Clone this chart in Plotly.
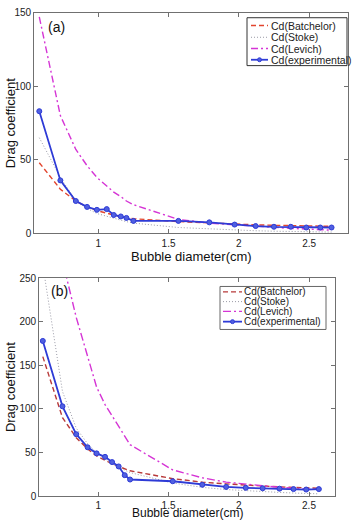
import plotly.graph_objects as go

# ---------------- data: panel (a) ----------------
d_a = [0.58, 0.73, 0.84, 0.92, 0.99, 1.06, 1.11, 1.16, 1.20, 1.25,
       1.57, 1.79, 1.97, 2.12, 2.25, 2.37, 2.48, 2.58, 2.66]
batchelor_a = [48, 30, 22, 18, 15.5, 13.5, 12.5, 11.5, 10.8, 10,
               8, 7, 6.2, 5.8, 5.5, 5.2, 5.0, 4.9, 4.8]
stoke_a = [65, 38, 22, 17, 13.5, 11.5, 10, 9, 8, 7,
           4, 3, 2.2, 1.8, 1.5, 1.3, 1.1, 1.0, 0.9]
levich_a = [147, 80, 57, 46, 38, 32, 28, 25, 22, 19.5,
            9.5, 7, 5.8, 4.8, 4.0, 3.4, 3.0, 2.6, 2.2]
exp_a = [83, 36, 22, 18, 16, 16.5, 12.5, 11.5, 10.5, 8.5,
         8.5, 7.5, 6, 5, 4.5, 4.5, 4, 4, 4]

# ---------------- data: panel (b) ----------------
d_b = [0.605, 0.745, 0.843, 0.924, 0.988, 1.048, 1.098, 1.145, 1.188, 1.226,
       1.53, 1.74, 1.91, 2.05, 2.17, 2.29, 2.39, 2.48, 2.57]
batchelor_b = [160, 90, 67, 54, 46, 41, 37, 34, 31, 29,
               20, 16, 14, 12.5, 11.5, 10.5, 10, 9.5, 9]
stoke_b = [265, 120, 78, 60, 50, 43, 37, 33, 30, 27,
           15, 10, 7.5, 6, 5, 4.2, 3.5, 3.0, 2.6]
levich_b = [440, 270, 205, 160, 125, 105, 92, 80, 68, 59,
            30, 21, 16, 13.5, 11.5, 10, 9, 8, 7.5]
exp_b = [178, 103, 71, 56, 49, 45, 39, 34, 24, 19,
         17, 13, 10.5, 9.5, 9, 8.5, 8, 7.5, 8]

names = ["Cd(Batchelor)", "Cd(Stoke)", "Cd(Levich)", "Cd(experimental)"]
x_ticks = [1, 1.5, 2, 2.5]
x_ticktext = ["1", "1.5", "2", "2.5"]
y_ticks_a = [0, 50, 100, 150]
y_ticks_b = [0, 50, 100, 150, 200, 250]
x_title = "Bubble diameter(cm)"
y_title = "Drag coefficient"

FONT = "Liberation Sans, Arial, sans-serif"
W, H = 352, 527
STOKE_COL = "#9a9aa6"
LEV_COL = "#d535d5"
EXP_COL = "#2e3bd6"


def px(x):
    return x / W


def py(y):
    return (H - y) / H


fig = go.Figure()


def add_panel(x, bat, sto, lev, ex, xa, ya, bat_col, lev_dash):
    styles = [
        dict(color=bat_col, width=1.4, dash="5px,3px"),
        dict(color=STOKE_COL, width=1, dash="1px,2px"),
        dict(color=LEV_COL, width=1.4, dash=lev_dash),
    ]
    for ys, st, nm in zip([bat, sto, lev], styles, names[:3]):
        fig.add_trace(go.Scatter(x=x, y=ys, mode="lines", name=nm, line=st,
                                 xaxis=xa, yaxis=ya, showlegend=False))
    fig.add_trace(go.Scatter(x=x, y=ex, mode="lines+markers", name=names[3],
                             line=dict(color=EXP_COL, width=1.8),
                             marker=dict(symbol="circle", size=5, color="#5060e0",
                                         line=dict(color=EXP_COL, width=1)),
                             xaxis=xa, yaxis=ya, showlegend=False))
    return styles


styles_a = add_panel(d_a, batchelor_a, stoke_a, levich_a, exp_a, "x", "y",
                     "#e2452e", "7px,3px,2px,3px")
styles_b = add_panel(d_b, batchelor_b, stoke_b, levich_b, exp_b, "x2", "y2",
                     "#b83a3a", "8px,3px,2px,3px")

axis_common = dict(showline=True, linecolor="#707070", linewidth=1.2, mirror="ticks",
                   ticks="inside", ticklen=4, tickcolor="#707070", showgrid=False,
                   zeroline=False, tickfont=dict(family=FONT, size=10, color="#222"))

fig.update_layout(
    width=W, height=H, margin=dict(l=0, r=0, t=0, b=0),
    paper_bgcolor="white", plot_bgcolor="white", showlegend=False,
    xaxis=dict(domain=[px(34.3), px(348)], range=[0.5445, 2.777],
               anchor="y", tickvals=x_ticks, ticktext=x_ticktext, **axis_common),
    yaxis=dict(domain=[py(232.7), py(6.7)], range=[0, 150],
               anchor="x", tickvals=y_ticks_a, **axis_common),
    xaxis2=dict(domain=[px(39.3), px(335)], range=[0.58, 2.685],
                anchor="y2", tickvals=x_ticks, ticktext=x_ticktext, **axis_common),
    yaxis2=dict(domain=[py(501.5), py(278.5)], range=[0, 250],
                anchor="x2", tickvals=y_ticks_b, **axis_common),
)

# axis titles
for (cx, cy, txt, ang, ya, fs) in [(191, 248, x_title, 0, "top", 13),
                                   (187, 527, x_title, 0, "bottom", 12),
                                   (10, 120, y_title, -90, "middle", 13),
                                   (10, 390, y_title, -90, "middle", 13)]:
    fig.add_annotation(text=txt, x=px(cx), y=py(cy), xref="paper", yref="paper",
                       xanchor="center", yanchor=ya, textangle=ang, borderpad=0,
                       showarrow=False, font=dict(family=FONT, size=fs, color="#111"))

# panel labels
fig.add_annotation(text="(a)", x=px(46), y=py(21), xref="paper", yref="paper",
                   xanchor="left", yanchor="middle", showarrow=False,
                   font=dict(family=FONT, size=14, color="#111"))
fig.add_annotation(text="(b)", x=px(49), y=py(292), xref="paper", yref="paper",
                   xanchor="left", yanchor="middle", showarrow=False,
                   font=dict(family=FONT, size=14, color="#111"))


# legends (MATLAB-style compact boxes)
def add_legend(box, rows, x0, x1, xt, styles, border, fsize):
    bx0, by0, bx1, by1 = box
    fig.add_shape(type="rect", xref="paper", yref="paper",
                  x0=px(bx0), x1=px(bx1), y0=py(by1), y1=py(by0),
                  line=dict(color=border, width=1), fillcolor="white", layer="above")
    all_styles = styles + [dict(color=EXP_COL, width=1.8)]
    for i, (ry, nm) in enumerate(zip(rows, names)):
        st = all_styles[i]
        fig.add_shape(type="line", xref="paper", yref="paper",
                      x0=px(x0), x1=px(x1), y0=py(ry), y1=py(ry),
                      line=dict(color=st["color"], width=st["width"],
                                dash=st.get("dash", "solid")), layer="above")
        if i == 3:
            cx = (x0 + x1) / 2
            fig.add_shape(type="circle", xref="paper", yref="paper",
                          x0=px(cx - 2), x1=px(cx + 2), y0=py(ry + 2), y1=py(ry - 2),
                          line=dict(color=EXP_COL, width=1), fillcolor="#5060e0",
                          layer="above")
        fig.add_annotation(text=nm, x=px(xt), y=py(ry), xref="paper", yref="paper",
                           xanchor="left", yanchor="middle", showarrow=False,
                           font=dict(family=FONT, size=fsize, color="#222"))


add_legend((247, 12, 347, 61), [20, 32, 43.5, 55], 251, 268, 269,
           styles_a, "#333", 10.5)
add_legend((220, 287, 326, 331), [292.5, 302.5, 312.5, 323], 223, 242, 242,
           styles_b, "#666", 10)

fig.write_html("out.html")
